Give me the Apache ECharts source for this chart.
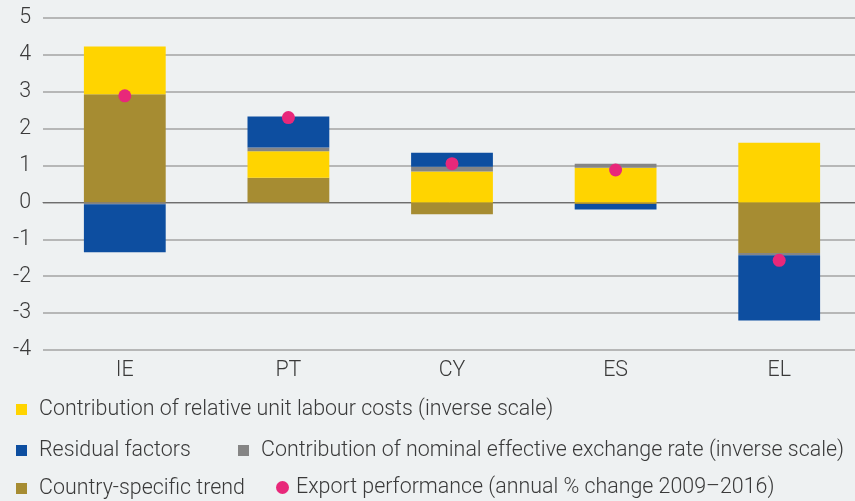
<!DOCTYPE html>
<html>
<head>
<meta charset="utf-8">
<script src="https://cdn.jsdelivr.net/npm/echarts@6/dist/echarts.min.js"></script>
<style>
html,body{margin:0;padding:0;background:#eef1f2;}
#c{width:855px;height:501px;}
</style>
</head>
<body>
<div id="c"></div>
<script>
var categories = ['IE', 'PT', 'CY', 'ES', 'EL'];
var trendValues = [2.93, 0.67, -0.32, -0.04, -1.37];
var ulcValues = [1.30, 0.72, 0.84, 0.94, 1.62];
var neerValues = [-0.05, 0.10, 0.13, 0.11, -0.06];
var residualValues = [-1.30, 0.84, 0.38, -0.15, -1.77];
var exportValues = [2.89, 2.30, 1.05, 0.88, -1.57];
var yTicks = {min: -4, max: 5, interval: 1};

var names = {
  ulc: 'Contribution of relative unit labour costs (inverse scale)',
  res: 'Residual factors',
  neer: 'Contribution of nominal effective exchange rate (inverse scale)',
  trend: 'Country-specific trend',
  exp: 'Export performance (annual % change 2009\u20132016)'
};

var FONT = 'Roboto';
var FS = 21.4;

function lg(name, left, top, icon, size, pad) {
  return {
    data: [{name: name, icon: icon}],
    left: left, top: top, padding: 0,
    itemWidth: size, itemHeight: size,
    textStyle: {fontFamily: FONT, fontSize: FS, fontWeight: 300, color: '#3a3a3a', padding: [0, 0, 0, pad]},
    selectedMode: false
  };
}

var chart = echarts.init(document.getElementById('c'));
chart.setOption({
  backgroundColor: '#eef1f2',
  animation: false,
  grid: {left: 43, top: 18, width: 818, height: 332, containLabel: false, outerBoundsMode: 'none'},
  legend: [
    lg(names.ulc, 16, 399, 'rect', 11, 7),
    lg(names.res, 16, 440, 'rect', 11, 7),
    lg(names.neer, 238, 440, 'rect', 11, 7),
    lg(names.trend, 16, 478, 'rect', 11, 7),
    lg(names.exp, 276, 477, 'circle', 13, 2)
  ],
  xAxis: {
    type: 'category',
    data: categories,
    axisLine: {onZero: true, lineStyle: {color: '#6e6e6e', width: 1}},
    axisTick: {show: false},
    axisLabel: {fontFamily: FONT, fontSize: FS, fontWeight: 300, color: '#3a3a3a', margin: 10},
    splitLine: {show: false}
  },
  yAxis: {
    type: 'value',
    min: yTicks.min, max: yTicks.max, interval: yTicks.interval,
    axisLine: {show: false},
    axisTick: {show: false},
    axisLabel: {fontFamily: FONT, fontSize: FS, fontWeight: 300, color: '#3a3a3a', margin: 12},
    splitLine: {lineStyle: {color: '#a3a3a3', width: 1.5}}
  },
  series: [
    {name: names.trend, type: 'bar', stack: 'a', barWidth: '50%', data: trendValues, itemStyle: {color: '#a68c32'}},
    {name: names.ulc, type: 'bar', stack: 'a', data: ulcValues, itemStyle: {color: '#ffd400'}},
    {name: names.neer, type: 'bar', stack: 'a', data: neerValues, itemStyle: {color: '#858585'}},
    {name: names.res, type: 'bar', stack: 'a', data: residualValues, itemStyle: {color: '#0d4ea0'}},
    {name: names.exp, type: 'scatter', data: exportValues, symbol: 'circle', symbolSize: 13, z: 5, itemStyle: {color: '#e8287a', opacity: 1}}
  ]
});
</script>
</body>
</html>
